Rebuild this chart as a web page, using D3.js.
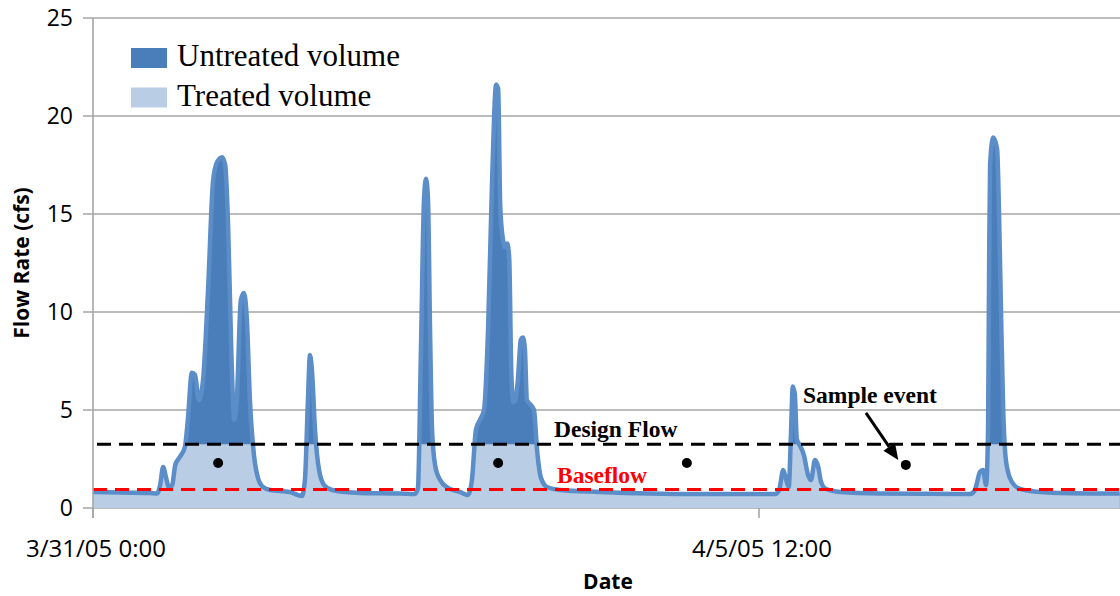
<!DOCTYPE html>
<html><head><meta charset="utf-8">
<script src="https://cdn.jsdelivr.net/npm/d3@7"></script>
<style>body{margin:0;background:#fff}svg{display:block}</style>
</head><body><svg id="c" width="1120" height="596"></svg>
<script>
// hours since 3/31/05 0:00
const hours = [0,5.4,11.3,12.7,13.3,13.9,14.5,15.1,15.7,16.3,17.2,18.2,18.8,19.6,20.2,21.0,21.8,22.8,23.8,24.6,25.6,26.2,26.8,27.4,28.0,28.5,29.3,29.9,30.5,31.1,31.9,32.7,33.7,35.1,39.0,41.4,42.0,42.6,43.0,43.4,44.0,44.8,45.8,47.4,52.9,60.8,63.8,64.4,65.0,65.6,66.0,66.4,66.8,67.2,67.8,68.8,70.4,72.7,74.3,75.1,75.9,76.7,77.5,78.3,79.1,79.9,80.3,80.7,81.1,81.7,82.1,82.5,82.9,83.3,83.7,84.2,84.8,85.2,85.6,86.0,86.8,87.4,88.0,88.8,90.0,92.6,100.5,110.4,120.3,135.2,136.0,136.8,137.3,137.9,138.3,138.7,139.1,139.5,140.1,140.9,141.7,142.3,143.1,143.7,144.3,145.3,148.1,156.0,173.8,174.8,175.8,176.4,177.0,177.4,177.6,177.8,178.4,179.2,179.6,180.0,180.4,180.8,181.4,182.2,183.3,185.7,191.7,203.5];
const flow  = [0.82,0.79,0.77,0.74,1.17,2.09,1.53,1.02,1.17,2.19,2.6,3.1,4.5,6.9,6.8,5.5,6.5,11.1,16.7,17.65,17.9,17.5,14.2,8.1,4.5,5.5,10.6,10.97,9.6,5.5,2.7,1.53,1.07,0.92,0.82,0.61,1.43,5.5,7.8,7.0,4.0,1.94,1.17,0.92,0.77,0.74,0.71,1.02,8.1,15.7,16.8,15.7,9.1,4.0,2.19,1.43,1.02,0.82,0.66,1.43,4.0,4.5,5.0,9.1,16.7,21.6,21.4,15.5,14.0,13.3,13.5,12.7,7.0,5.4,5.5,6.5,8.6,8.7,8.1,5.5,5.25,5.0,3.0,1.53,1.07,0.92,0.82,0.74,0.71,0.71,0.92,1.94,1.53,1.07,3.5,6.2,5.8,3.5,3.2,2.7,1.7,1.43,2.45,2.14,1.33,0.97,0.82,0.74,0.71,0.92,1.84,1.94,1.17,4.0,12.0,17.5,18.9,18.3,14.7,9.6,5.0,2.8,1.8,1.3,1.02,0.87,0.77,0.74];
const designFlow = 3.25;
const baseflow = 0.95;
const sampleHours = [24.8,80.3,117.7,161.1];
const sampleFlow  = [2.3,2.3,2.3,2.2];
const yTicks = [0,5,10,15,20,25];
const xTickLabels = ["3/31/05 0:00","4/5/05 12:00"];
const legendLabels = ["Untreated volume","Treated volume"];

const t0 = new Date(2005,2,31,0,0);
const toDate = h => new Date(t0.getTime()+h*3600e3);
const xTicks = [toDate(0), toDate(132)];
const data = hours.map((h,i)=>({d:toDate(h), v:flow[i]}));

const svg = d3.select("#c");
const pl=93, pr=1120, pt=18, pb=508;
const x = d3.scaleTime().domain([toDate(0), toDate(132)]).range([93,759]);
const y = d3.scaleLinear().domain([0,25]).range([pb,pt]);

svg.append("defs").append("clipPath").attr("id","pc").append("rect")
  .attr("x",pl).attr("y",0).attr("width",pr-pl).attr("height",pb+1);

// gridlines
const g = svg.append("g");
g.selectAll("line.grid").data(yTicks).join("line")
  .attr("x1",pl-10).attr("x2",pr).attr("y1",d=>y(d)).attr("y2",d=>y(d))
  .attr("stroke","#a6a6a6").attr("stroke-width",1.6);
g.selectAll("text.yt").data(yTicks).join("text")
  .attr("x",73).attr("y",d=>y(d)).attr("dy","0.36em").attr("text-anchor","end")
  .attr("font-family","Open Sans").attr("font-size",23).attr("fill","#000").text(d=>d);

const plot = svg.append("g").attr("clip-path","url(#pc)");
const area = d3.area().x(d=>x(d.d)).y0(y(0)).y1(d=>y(d.v)).curve(d3.curveMonotoneX);
plot.append("path").datum(data).attr("d",area).attr("fill","#4a7ebb");
const area2 = d3.area().x(d=>x(d.d)).y0(y(0)).y1(d=>y(Math.min(d.v,designFlow))).curve(d3.curveMonotoneX);
plot.append("path").datum(data).attr("d",area2).attr("fill","#b9cde5");
const line = d3.line().x(d=>x(d.d)).y(d=>y(d.v)).curve(d3.curveMonotoneX);
plot.append("path").datum(data).attr("d",line).attr("fill","none")
  .attr("stroke","#5b8dc9").attr("stroke-width",4.5).attr("stroke-linejoin","round");

// reference lines
plot.append("line").attr("x1",97).attr("x2",pr).attr("y1",y(designFlow)).attr("y2",y(designFlow))
  .attr("stroke","#000").attr("stroke-width",3).attr("stroke-dasharray","14,8");
plot.append("line").attr("x1",93).attr("x2",pr).attr("y1",y(baseflow)).attr("y2",y(baseflow))
  .attr("stroke","#ff0000").attr("stroke-width",3).attr("stroke-dasharray","14,8");

// axes
svg.append("line").attr("x1",pl).attr("x2",pl).attr("y1",pt).attr("y2",pb+10)
  .attr("stroke","#a6a6a6").attr("stroke-width",1.6);
svg.selectAll("line.xt").data(xTicks).join("line")
  .attr("x1",d=>x(d)).attr("x2",d=>x(d)).attr("y1",pb).attr("y2",pb+10)
  .attr("stroke","#a6a6a6").attr("stroke-width",1.6);
svg.selectAll("text.xt").data(xTicks).join("text")
  .attr("x",d=>x(d)+3).attr("y",557).attr("text-anchor","middle")
  .attr("font-family","Open Sans").attr("font-size",24).attr("fill","#000")
  .text((d,i)=>xTickLabels[i]);

// sample dots
svg.selectAll("circle.s").data(sampleHours).join("circle")
  .attr("cx",d=>x(toDate(d))).attr("cy",(d,i)=>y(sampleFlow[i])).attr("r",5).attr("fill","#000");

// annotations
const tf = "Liberation Serif";
svg.append("text").attr("x",554).attr("y",437).attr("font-family",tf).attr("font-weight","bold")
  .attr("font-size",23.5).text("Design Flow");
svg.append("text").attr("x",557).attr("y",483).attr("font-family",tf).attr("font-weight","bold")
  .attr("font-size",23.5).attr("fill","#ff0000").text("Baseflow");
svg.append("text").attr("x",803).attr("y",403).attr("font-family",tf).attr("font-weight","bold")
  .attr("font-size",23.5).text("Sample event");
// arrow
const ax1=x(toDate(153.2)), ay1=y(4.85), ax2=x(toDate(159.6)), ay2=y(2.45);
const ang=Math.atan2(ay2-ay1,ax2-ax1);
const hl=16, hw=7;
const bx=ax2-hl*Math.cos(ang), by=ay2-hl*Math.sin(ang);
svg.append("line").attr("x1",ax1).attr("y1",ay1).attr("x2",bx).attr("y2",by)
  .attr("stroke","#000").attr("stroke-width",3);
svg.append("path").attr("d",`M${ax2},${ay2}L${bx+hw*Math.sin(ang)},${by-hw*Math.cos(ang)}L${bx-hw*Math.sin(ang)},${by+hw*Math.cos(ang)}Z`)
  .attr("fill","#000");

// legend
const colors=["#4a7ebb","#b9cde5"];
legendLabels.forEach((l,i)=>{
  svg.append("rect").attr("x",131).attr("y",48+i*39.5).attr("width",36).attr("height",20).attr("fill",colors[i]);
  svg.append("text").attr("x",177).attr("y",66+i*40).attr("font-family",tf).attr("font-size",31).text(l);
});

// axis titles
svg.append("text").attr("transform","translate(29,263) rotate(-90)").attr("text-anchor","middle")
  .attr("font-family","Open Sans").attr("font-weight","bold").attr("font-size",21).text("Flow Rate (cfs)");
svg.append("text").attr("x",608).attr("y",589).attr("text-anchor","middle")
  .attr("font-family","Open Sans").attr("font-weight","bold").attr("font-size",21).text("Date");
</script></body></html>
